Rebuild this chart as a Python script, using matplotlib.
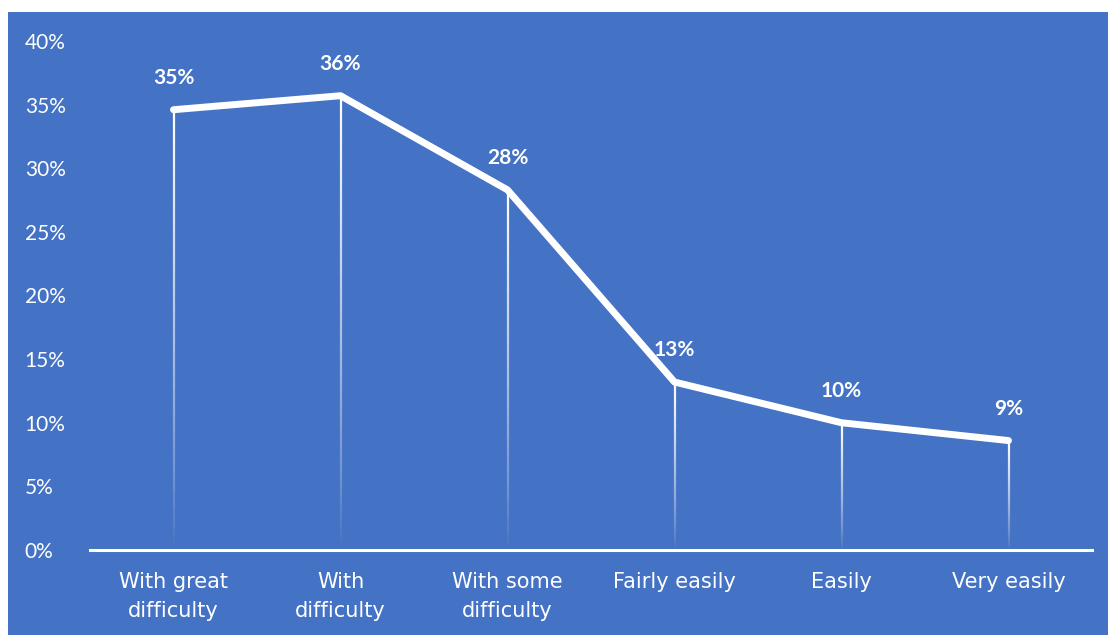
import numpy as np
from matplotlib import pyplot as plt
from matplotlib.collections import LineCollection
from matplotlib.patches import Rectangle
from matplotlib.ticker import PercentFormatter

# data
categories = ["With great\ndifficulty", "With\ndifficulty", "With some\ndifficulty",
              "Fairly easily", "Easily", "Very easily"]
values = [34.6, 35.7, 28.3, 13.2, 10.0, 8.6]
labels = ["35%", "36%", "28%", "13%", "10%", "9%"]

BLUE = "#4472C4"
W, H = 1108, 635

plt.rcParams['font.family'] = ['Lato', 'DejaVu Sans']

fig = plt.figure(figsize=(W / 100, H / 100), dpi=100, facecolor="white")
fig.patches.append(Rectangle((8 / W, 0), 1 - 8 / W, 1 - 12 / H,
                             transform=fig.transFigure, facecolor=BLUE,
                             edgecolor="none", zorder=-10))

ax = fig.add_axes([90 / W, 85 / H, 1002 / W, 509 / H])
ax.set_facecolor("none")
x = np.arange(len(categories))

# drop lines fading toward the bottom
nseg = 60
for xi, v in zip(x, values):
    ys = np.linspace(0, v, nseg + 1)
    segs = [[(xi, ys[k]), (xi, ys[k + 1])] for k in range(nseg)]
    alphas = np.linspace(0.0, 1.0, nseg) ** 0.8
    cols = [(1, 1, 1, a) for a in alphas]
    ax.add_collection(LineCollection(segs, colors=cols, linewidths=1.6, zorder=2))

ax.plot(x, values, color="white", lw=5, solid_capstyle="round",
        solid_joinstyle="round", zorder=3)

for xi, v, lab in zip(x, values, labels):
    ax.annotate(lab, (xi, v), xytext=(0, 23), textcoords="offset points",
                ha="center", va="center", color="white", fontsize=15,
                fontweight="bold")

ax.set_xlim(-0.5, len(categories) - 0.5)
ax.set_ylim(0, 40)
ax.yaxis.set_major_locator(plt.MultipleLocator(5))
ax.yaxis.set_major_formatter(PercentFormatter(decimals=0))
ax.set_xticks(x)
ax.set_xticklabels(categories, linespacing=1.55, family="DejaVu Sans",
                   fontsize=15)

for s in ["top", "right", "left"]:
    ax.spines[s].set_visible(False)
ax.spines["bottom"].set_color("white")
ax.spines["bottom"].set_linewidth(2.2)
ax.tick_params(axis="both", length=0, colors="white")
ax.tick_params(axis="x", pad=16)
ax.tick_params(axis="y", pad=47, labelsize=15)
for t in ax.get_yticklabels():
    t.set_ha("left")

fig.savefig("out.png", dpi=100, facecolor=fig.get_facecolor())
